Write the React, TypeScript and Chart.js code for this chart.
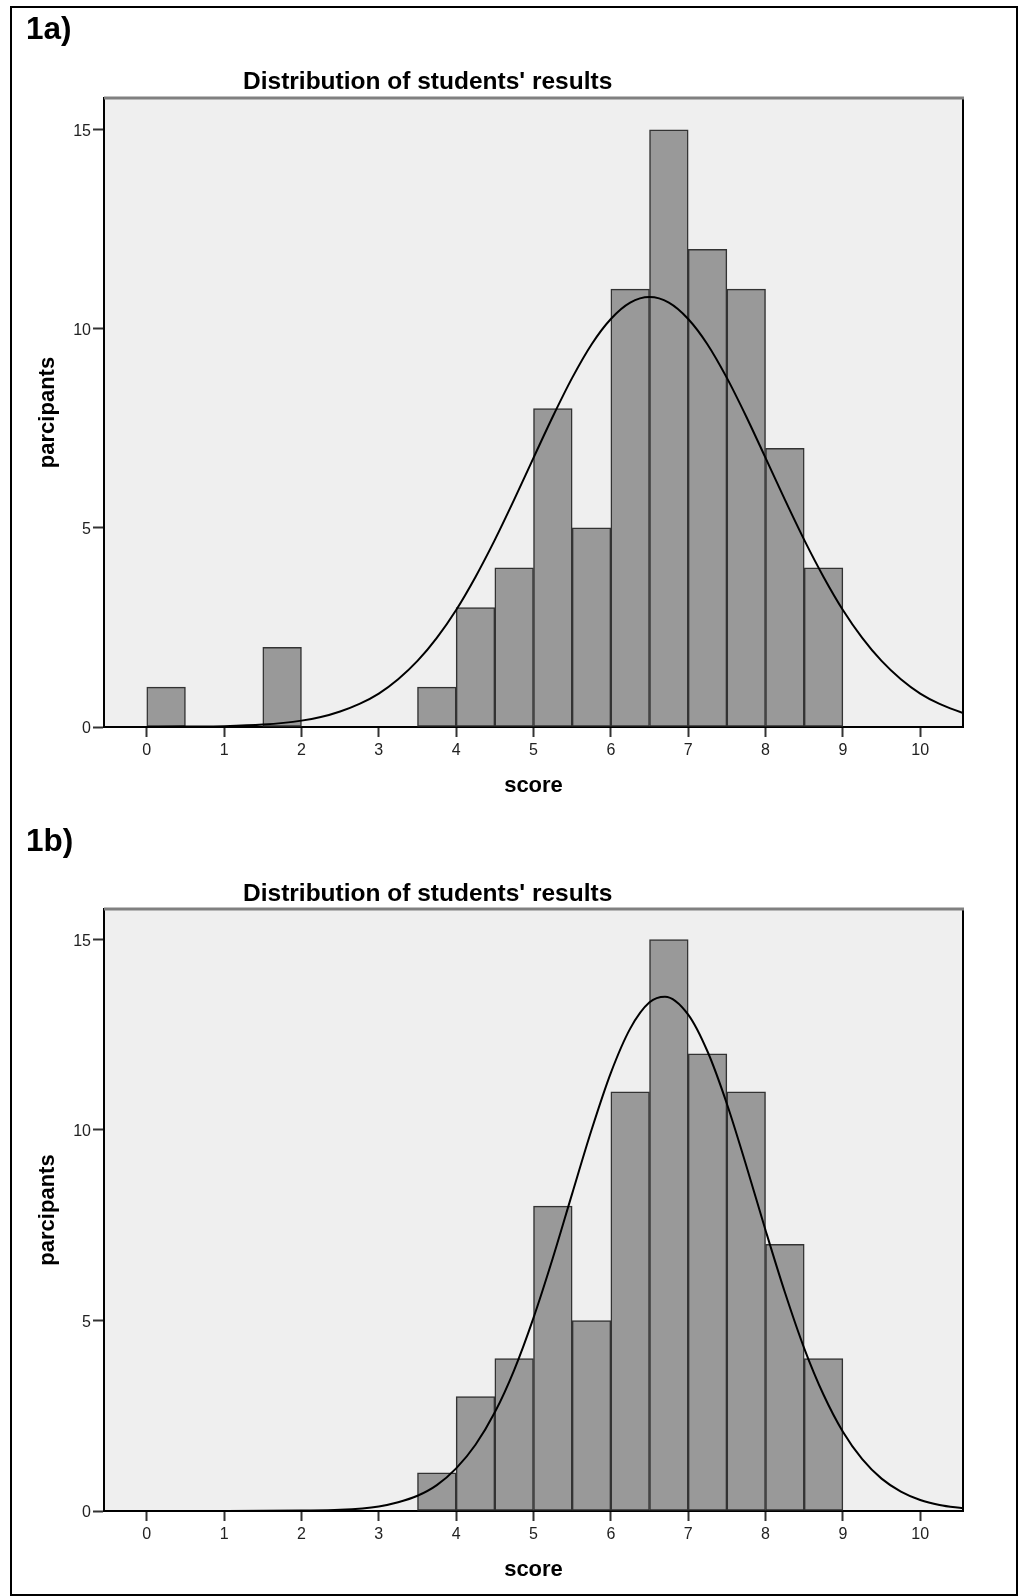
import React, { useEffect, useRef } from "react";
import { Chart, registerables } from "chart.js";

Chart.register(...registerables);

const FONT = "'Liberation Sans', Arial, Helvetica, sans-serif";

// ---- data ----
const binWidth = 0.5;

const binStartsA = [0, 1.5, 3.5, 4, 4.5, 5, 5.5, 6, 6.5, 7, 7.5, 8, 8.5];
const countsA = [1, 2, 1, 3, 4, 8, 5, 11, 15, 12, 11, 7, 4];

const curveXA = [
  -0.553, 0, 0.5, 1, 1.5, 2, 2.25, 2.5, 2.75, 3, 3.25, 3.5, 3.75, 4, 4.25, 4.5, 4.75, 5, 5.25, 5.5, 5.75, 6, 6.25,
  6.5, 6.75, 7, 7.25, 7.5, 7.75, 8, 8.25, 8.5, 8.75, 9, 9.25, 9.5, 9.75, 10, 10.25, 10.553,
];
const curveYA = [
  0, 0, 0.01, 0.02, 0.06, 0.16, 0.25, 0.39, 0.58, 0.84, 1.2, 1.66, 2.24, 2.94, 3.77, 4.7, 5.71, 6.76, 7.8, 8.77, 9.61,
  10.25, 10.66, 10.8, 10.66, 10.25, 9.61, 8.77, 7.8, 6.76, 5.71, 4.7, 3.77, 2.94, 2.24, 1.66, 1.2, 0.84, 0.58, 0.35,
];

const binStartsB = [3.5, 4, 4.5, 5, 5.5, 6, 6.5, 7, 7.5, 8, 8.5];
const countsB = [1, 3, 4, 8, 5, 11, 15, 12, 11, 7, 4];

const curveXB = [
  -0.553, 0, 1, 2, 2.5, 3, 3.25, 3.5, 3.75, 4, 4.25, 4.5, 4.75, 5, 5.25, 5.5, 5.75, 6, 6.25, 6.5, 6.7, 7, 7.25, 7.5,
  7.75, 8, 8.25, 8.5, 8.75, 9, 9.25, 9.5, 9.75, 10, 10.25, 10.553,
];
const curveYB = [
  0, 0, 0, 0.01, 0.03, 0.12, 0.23, 0.4, 0.68, 1.12, 1.74, 2.59, 3.7, 5.07, 6.64, 8.33, 10.0, 11.5, 12.66, 13.35, 13.5,
  13.03, 12.06, 10.69, 9.07, 7.37, 5.74, 4.27, 3.05, 2.08, 1.36, 0.85, 0.51, 0.29, 0.16, 0.07,
];

const xTickValues = [0, 1, 2, 3, 4, 5, 6, 7, 8, 9, 10];
const yTickValues = [0, 5, 10, 15];
const xMin = -0.553;
const xMax = 10.553;
const yMin = 0;
const yMax = 15.8;

const titleText = "Distribution of students' results";
const xTitleText = "score";
const yTitleText = "parcipants";
const panelLabels = ["1a)", "1b)"];

// ---- plugin: plot background + top/right frame ----
const framePlugin = {
  id: "spssFrame",
  beforeDraw(chart: any) {
    const { ctx, chartArea: a } = chart;
    ctx.save();
    ctx.fillStyle = "#efefef";
    ctx.fillRect(a.left, a.top, a.right - a.left, a.bottom - a.top);
    ctx.restore();
  },
  afterDraw(chart: any) {
    const { ctx, chartArea: a } = chart;
    ctx.save();
    ctx.strokeStyle = "#000";
    ctx.lineWidth = 2;
    ctx.beginPath();
    ctx.moveTo(a.right, a.top);
    ctx.lineTo(a.right, a.bottom);
    ctx.stroke();
    ctx.strokeStyle = "#808080";
    ctx.lineWidth = 3;
    ctx.beginPath();
    ctx.moveTo(a.left, a.top);
    ctx.lineTo(a.right + 1, a.top);
    ctx.stroke();
    ctx.restore();
  },
};

type PanelProps = {
  top: number;
  height: number;
  padTop: number;
  padBottom: number;
  starts: number[];
  counts: number[];
  cx: number[];
  cy: number[];
};

function Panel({ top, height, padTop, padBottom, starts, counts, cx, cy }: PanelProps) {
  const ref = useRef<HTMLCanvasElement>(null);

  useEffect(() => {
    if (!ref.current) return;
    const chart = new Chart(ref.current, {
      type: "bar",
      data: {
        datasets: [
          {
            type: "line",
            data: cx.map((x, i) => ({ x, y: cy[i] })),
            borderColor: "#000",
            borderWidth: 2,
            pointRadius: 0,
            cubicInterpolationMode: "monotone",
            fill: false,
            order: 0,
          } as any,
          {
            type: "bar",
            data: starts.map((s, i) => ({ x: s + binWidth / 2, y: counts[i] })),
            backgroundColor: "#999999",
            borderColor: "#333333",
            borderWidth: 1.5,
            borderSkipped: false,
            barPercentage: 1,
            categoryPercentage: 1,
            order: 1,
          } as any,
        ],
      },
      options: {
        responsive: false,
        animation: false,
        events: [],
        layout: { padding: { left: 30, right: 58, top: padTop, bottom: padBottom } },
        plugins: {
          legend: { display: false },
          tooltip: { enabled: false },
          title: { display: false },
        },
        scales: {
          x: {
            type: "linear",
            min: xMin,
            max: xMax,
            offset: false,
            z: 1,
            afterBuildTicks: (s: any) => {
              s.ticks = xTickValues.map((v) => ({ value: v }));
            },
            afterFit: (s: any) => {
              s.height = 77;
            },
            grid: {
              offset: false,
              drawOnChartArea: false,
              drawTicks: true,
              tickLength: 10,
              tickWidth: 2,
              tickColor: "#333",
            },
            border: { display: true, color: "#000", width: 2 },
            ticks: {
              font: { family: FONT, size: 16 },
              color: "#222",
              padding: 4,
              maxRotation: 0,
              autoSkip: false,
            },
            title: {
              display: true,
              text: xTitleText,
              color: "#000",
              font: { family: FONT, size: 22, weight: "bold" },
              padding: { top: 0, bottom: 5 },
            },
          },
          y: {
            type: "linear",
            min: yMin,
            max: yMax,
            z: 1,
            afterBuildTicks: (s: any) => {
              s.ticks = yTickValues.map((v) => ({ value: v }));
            },
            afterFit: (s: any) => {
              s.width = 74;
            },
            grid: {
              drawOnChartArea: false,
              drawTicks: true,
              tickLength: 11,
              tickWidth: 2,
              tickColor: "#333",
            },
            border: { display: true, color: "#000", width: 2 },
            ticks: {
              font: { family: FONT, size: 16 },
              color: "#222",
              padding: 2,
              labelOffset: 2,
            },
            title: {
              display: true,
              text: yTitleText,
              color: "#000",
              font: { family: FONT, size: 22, weight: "bold" },
              padding: { top: 5, bottom: 0 },
            },
          },
        },
      } as any,
      plugins: [framePlugin],
    });
    return () => chart.destroy();
  }, []);

  return (
    <canvas
      ref={ref}
      width={1021}
      height={height}
      style={{ position: "absolute", left: 0, top, width: 1021, height }}
    />
  );
}

const labelStyle = (left: number, top: number): React.CSSProperties => ({
  position: "absolute",
  left,
  top,
  fontFamily: FONT,
  fontWeight: "bold",
  fontSize: 31.5,
  lineHeight: "31.5px",
  color: "#000",
  whiteSpace: "nowrap",
});

const titleStyle = (left: number, top: number): React.CSSProperties => ({
  position: "absolute",
  left,
  top,
  fontFamily: FONT,
  fontWeight: "bold",
  fontSize: 24.5,
  lineHeight: "24.5px",
  color: "#000",
  whiteSpace: "nowrap",
});

export default function App() {
  return (
    <div
      style={{
        position: "absolute",
        left: 0,
        top: 0,
        width: 1021,
        height: 1596,
        background: "#fff",
        overflow: "hidden",
      }}
    >
      <div
        style={{
          position: "absolute",
          left: 10,
          top: 6,
          width: 1008,
          height: 1590,
          border: "2px solid #000",
          boxSizing: "border-box",
        }}
      />
      <Panel top={44} height={780} padTop={54} padBottom={20} starts={binStartsA} counts={countsA} cx={curveXA} cy={curveYA} />
      <Panel top={860} height={736} padTop={49} padBottom={8} starts={binStartsB} counts={countsB} cx={curveXB} cy={curveYB} />
      <div style={labelStyle(26, 13.3)}>{panelLabels[0]}</div>
      <div style={titleStyle(243, 69.3)}>{titleText}</div>
      <div style={labelStyle(26, 825.3)}>{panelLabels[1]}</div>
      <div style={titleStyle(243, 881.3)}>{titleText}</div>
    </div>
  );
}
